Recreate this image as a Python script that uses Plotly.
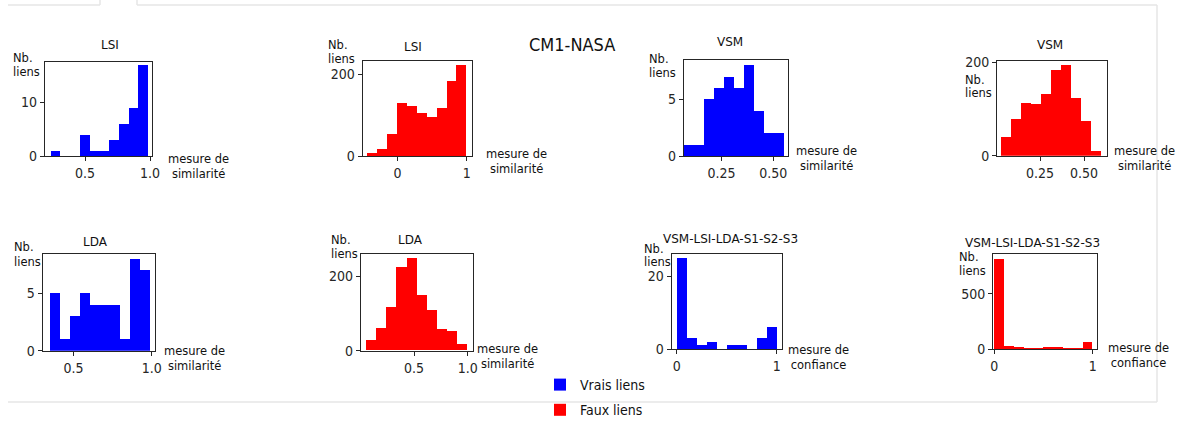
import plotly.graph_objects as go

W, H = 1179, 421

# ---------------- data (histogram counts, bin starts and widths) ----------------
titles = ["LSI", "LSI", "VSM", "VSM", "LDA", "LDA",
          "VSM-LSI-LDA-S1-S2-S3", "VSM-LSI-LDA-S1-S2-S3"]
xlabels = ["mesure de<br>similarité"] * 6 + ["mesure de<br>confiance"] * 2
series_names = ["Vrais liens", "Faux liens"]

lsi_vrais_start, lsi_vrais_width = 0.235, 0.075
lsi_vrais = [1, 0, 0, 4, 1, 1, 3, 6, 9, 17]
lsi_faux_start, lsi_faux_width = -0.44, 0.143
lsi_faux = [7, 17, 54, 131, 124, 106, 97, 118, 184, 224]
vsm_vrais_start, vsm_vrais_width = 0.068, 0.0485
vsm_vrais = [1, 1, 5, 6, 7, 6, 8, 4, 2, 2]
vsm_faux_start, vsm_faux_width = 0.032, 0.0566
vsm_faux = [41, 79, 114, 111, 133, 184, 195, 125, 74, 11]
lda_vrais_start, lda_vrais_width = 0.346, 0.0639
lda_vrais = [5, 1, 3, 5, 4, 4, 4, 1, 8, 7]
lda_faux_start, lda_faux_width = 0.056, 0.0935
lda_faux = [29, 61, 116, 224, 248, 150, 109, 59, 51, 17]
comb_vrais_start, comb_vrais_width = 0.0, 0.1
comb_vrais = [25, 3, 1, 2, 0, 1, 1, 0, 3, 6]
comb_faux_start, comb_faux_width = 0.0, 0.1
comb_faux = [816, 33, 24, 12, 12, 24, 24, 12, 12, 69]

x_tickvals = [[0.5, 1.0], [0, 1], [0.25, 0.50], [0.25, 0.50],
              [0.5, 1.0], [0.5, 1.0], [0, 1], [0, 1]]
x_ticktext = [["0.5", "1.0"], ["0", "1"], ["0.25", "0.50"], ["0.25", "0.50"],
              ["0.5", "1.0"], ["0.5", "1.0"], ["0", "1"], ["0", "1"]]
y_tickvals = [[0, 10], [0, 200], [0, 5], [0, 200],
              [0, 5], [0, 200], [0, 20], [0, 500]]

panels_data = [
    (lsi_vrais_start, lsi_vrais_width, lsi_vrais, 0),
    (lsi_faux_start, lsi_faux_width, lsi_faux, 1),
    (vsm_vrais_start, vsm_vrais_width, vsm_vrais, 0),
    (vsm_faux_start, vsm_faux_width, vsm_faux, 1),
    (lda_vrais_start, lda_vrais_width, lda_vrais, 0),
    (lda_faux_start, lda_faux_width, lda_faux, 1),
    (comb_vrais_start, comb_vrais_width, comb_vrais, 0),
    (comb_faux_start, comb_faux_width, comb_faux, 1),
]

# ---------------- layout / style ----------------
colors = ["#0000ff", "#ff0000"]
# axes boxes in pixels: x0, x1, ytop, ybottom
boxes = [(45, 152, 62, 156), (362.7, 472.3, 60.7, 156),
         (684, 788.3, 60, 156), (997.3, 1106.7, 60.7, 155.7),
         (42.7, 155, 254, 350.7), (361, 472.7, 254.3, 350.7),
         (671.7, 781.7, 254.3, 349.3), (993.3, 1096.7, 254, 349.3)]
x_ranges = [[0.192, 1.015], [-0.5, 1.08], [0.068, 0.573], [0.0074, 0.629],
            [0.304, 1.021], [0.006, 1.047], [-0.05, 1.05], [-0.01, 1.04]]
y_ranges = [[0, 17.5], [0, 233], [0, 8.47], [0, 203],
            [0, 8.43], [0, 260], [0, 26], [0, 860]]
title_pos = [(110, 45), (413, 46.7), (730, 41.7), (1050, 45),
             (95, 241.7), (410, 240), (730, 238.5), (1032, 242.7)]
# left x, y of "Nb.", y of "liens"
ylab_pos = [(12, 58, 72), (327, 45, 58.5), (648, 59, 72.5), (964, 80, 93.5),
            (13, 247, 261.5), (330, 240, 253.5), (643, 249, 262), (958, 257, 271)]
xlab_pos = [(198, 166), (516, 162), (826, 159), (1144, 159),
            (194, 358), (507, 356), (818, 357), (1138, 355.5)]

FONT = "DejaVu Sans, Verdana, sans-serif"
COND = "DejaVu Sans Condensed, Liberation Sans Narrow, Arial Narrow, sans-serif"


def px(x):
    return x / W


def py(y):
    return 1 - y / H


fig = go.Figure()
legend_done = [False, False]
for i, (start, width, counts, s) in enumerate(panels_data):
    k = "" if i == 0 else str(i + 1)
    centers = [start + width * (j + 0.5) for j in range(len(counts))]
    fig.add_trace(go.Bar(
        x=centers, y=counts, width=width,
        marker=dict(color=colors[s], line=dict(width=0)),
        name=series_names[s],
        legendgroup=series_names[s],
        showlegend=not legend_done[s],
        legendrank=s,
        xaxis="x" + k, yaxis="y" + k,
        hoverinfo="x+y",
    ))
    legend_done[s] = True

axis_common = dict(showline=True, mirror=True, linecolor="#262626", linewidth=1.3,
                   ticks="outside", ticklen=4, tickwidth=1.2, tickcolor="#262626",
                   showgrid=False, zeroline=False, fixedrange=True,
                   tickfont=dict(family=COND, size=14, color="#262626"))

layout = {}
for i, (x0, x1, yt, yb) in enumerate(boxes):
    k = "" if i == 0 else str(i + 1)
    layout["xaxis" + k] = dict(domain=[px(x0), px(x1)], range=x_ranges[i],
                               anchor="y" + k, tickvals=x_tickvals[i],
                               ticktext=x_ticktext[i], **axis_common)
    layout["yaxis" + k] = dict(domain=[py(yb), py(yt)], range=y_ranges[i],
                               anchor="x" + k, tickvals=y_tickvals[i],
                               **axis_common)

small = dict(family=FONT, size=11.5, color="#111")
annotations = []
for i in range(8):
    tx, ty = title_pos[i]
    annotations.append(dict(x=px(tx), y=py(ty), xref="paper", yref="paper",
                            text=titles[i], showarrow=False, xanchor="center",
                            yanchor="middle",
                            font=dict(family=FONT, size=12, color="#111")))
    lx, ly1, ly2 = ylab_pos[i]
    for txt, yy in (("Nb.", ly1), ("liens", ly2)):
        annotations.append(dict(x=px(lx), y=py(yy), xref="paper", yref="paper",
                                text=txt, showarrow=False, xanchor="left",
                                yanchor="middle", borderpad=0, font=small))
    bx, by = xlab_pos[i]
    annotations.append(dict(x=px(bx), y=py(by), xref="paper", yref="paper",
                            text=xlabels[i], showarrow=False, xanchor="center",
                            yanchor="middle", align="center", font=small))
annotations.append(dict(x=px(572), y=py(44), xref="paper", yref="paper",
                        text="CM1-NASA", showarrow=False, xanchor="center",
                        yanchor="middle", font=dict(family=COND, size=18, color="#111")))

frame = "#e6e6e6"
shapes = []
for (xa, ya, xb, yb2) in [(8, 5, 100, 5), (100, 0, 100, 5), (137, 0, 137, 5),
                          (137, 5, 1157, 5), (1157, 5, 1157, 402), (8, 402, 1157, 402)]:
    shapes.append(dict(type="line", xref="paper", yref="paper",
                       x0=px(xa), y0=py(ya), x1=px(xb), y1=py(yb2),
                       line=dict(color=frame, width=1.5)))

fig.update_layout(
    width=W, height=H,
    margin=dict(l=0, r=0, t=0, b=0, autoexpand=False),
    paper_bgcolor="white", plot_bgcolor="white",
    bargap=0,
    annotations=annotations,
    shapes=shapes,
    legend=dict(x=px(540), y=py(369), xanchor="left", yanchor="top",
                font=dict(family=COND, size=14, color="#111"),
                bgcolor="rgba(0,0,0,0)", itemwidth=30, tracegroupgap=4),
    **layout,
)

fig.write_html("out.html", config={"displayModeBar": False},
               post_script="document.body.style.margin='0';")
